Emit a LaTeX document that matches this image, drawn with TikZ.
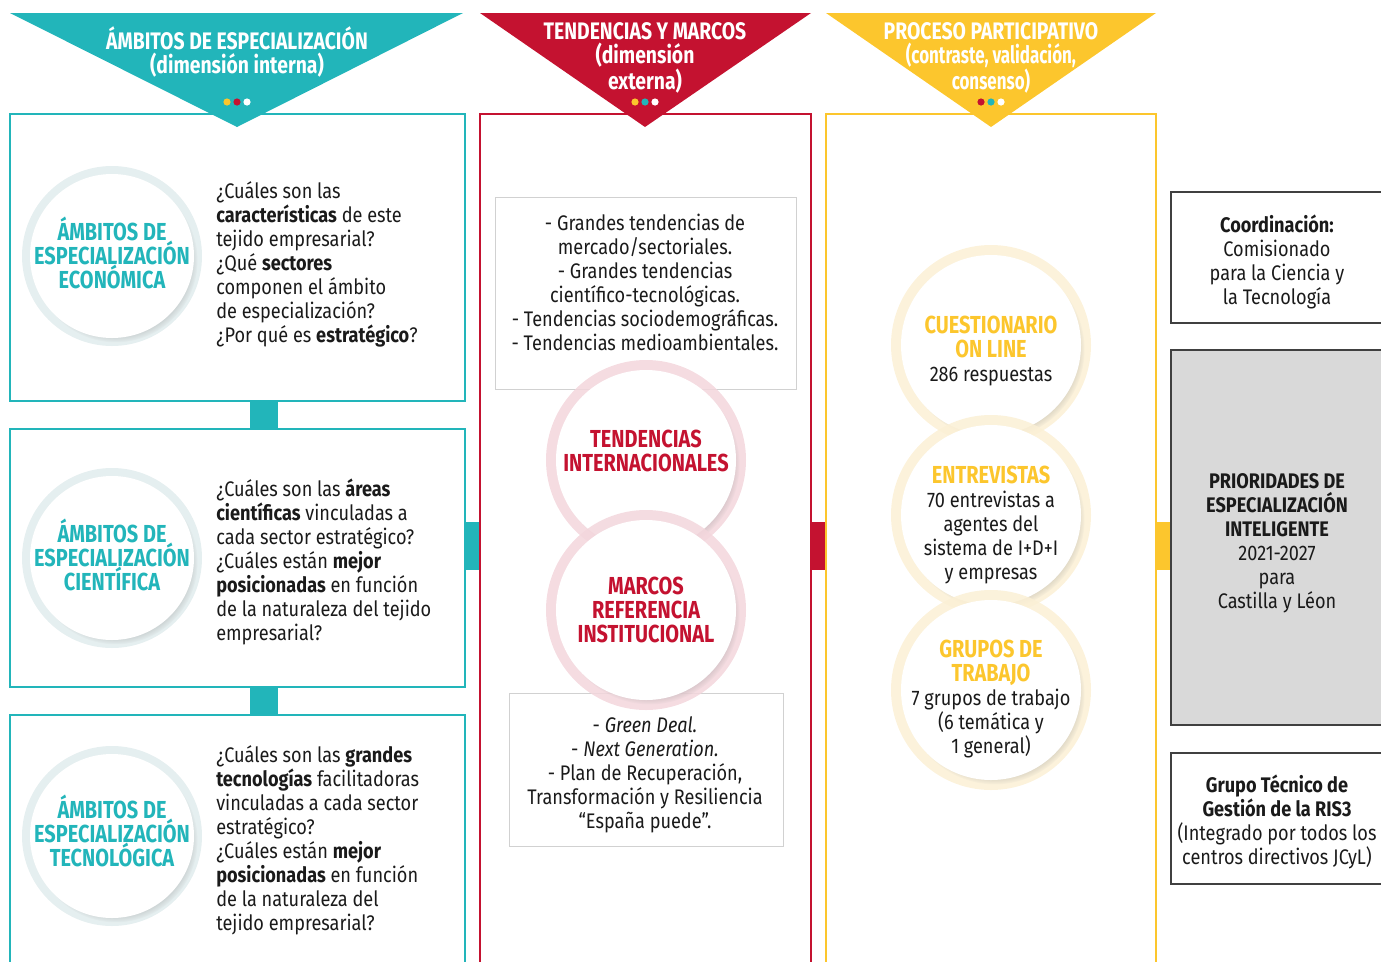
\documentclass[tikz,border=0pt]{standalone}
\usepackage{fontspec}
\setmainfont{Fira Sans}[FakeStretch=0.86]
\newfontfamily\headfont{Fira Sans}[FakeStretch=0.81]
\newfontfamily\narrowfont{Fira Sans}[FakeStretch=0.71]
\usetikzlibrary{positioning,fit,calc,shadows}

\definecolor{ristea}{HTML}{22B5BA}
\definecolor{risred}{HTML}{C41230}
\definecolor{risyel}{HTML}{FCC62D}
\definecolor{risgray}{HTML}{D9D9D9}
\definecolor{ink}{HTML}{1A1A1A}
\definecolor{tearing}{HTML}{E1ECED}
\definecolor{redring}{HTML}{F3D6DC}
\definecolor{yelring}{HTML}{FBF0D5}

\newcommand\ytag[1]{{\color{risyel}\headfont\bfseries\fontsize{17.5}{17.07}\selectfont #1}}
\newcommand\nhead[1]{{\narrowfont\bfseries #1}}

\tikzset{
  colbox/.style={draw=#1, line width=0.35mm, inner sep=0pt},
  listbox/.style={draw=black!18, line width=0.2mm, inner sep=0pt},
  sidebox/.style={draw=black!75, line width=0.3mm, inner sep=0pt},
  ring/.style={circle, fill=#1, fill opacity=0.85, inner sep=0pt, minimum size=50mm},
  disc/.style={circle, fill=white, inner sep=0pt, minimum size=45mm,
    circular drop shadow={shadow xshift=0.9mm, shadow yshift=-1.1mm, shadow scale=1.0, opacity=0.45}},
  headtxt/.style={font=\headfont\bfseries\fontsize{17}{17.07}\selectfont, align=center, text=white, inner sep=0pt},
  body/.style={font=\fontsize{15}{17.07}\selectfont, text=ink, inner sep=0pt},
  tag/.style={font=\headfont\bfseries\fontsize{17.5}{17.07}\selectfont, text=#1, align=center, inner sep=0pt},
}

\begin{document}
\begin{tikzpicture}[x=0.25mm, y=-0.25mm]
\useasboundingbox (0,0) rectangle (1381,961);
\clip (0,0) rectangle (1381,961);

\node[colbox=ristea, fit={(10,114) (465,401)}] (eco) {};
\node[colbox=ristea, fit={(10,429) (465,687)}] (cie) {};
\node[colbox=ristea, fit={(10,715) (465,990)}] (tec) {};
\node[colbox=risred, fit={(480,114) (811,990)}] (tend) {};
\node[colbox=risyel, fit={(826,114) (1156,990)}] (proc) {};

\fill[ristea] (10,13) -- (463,13) -- (237,127) -- cycle;
\fill[risred] (480,13) -- (811,13) -- (645,127) -- cycle;
\fill[risyel] (826,13) -- (1156,13) -- (991,127) -- cycle;
\node[headtxt] (hamb) at (237,52) {ÁMBITOS DE ESPECIALIZACIÓN\\(dimensión interna)};
\node[headtxt] (htend) at (645,58) {TENDENCIAS Y MARCOS\\(dimensión\\externa)};
\node[headtxt] (hproc) at (991,58) {PROCESO PARTICIPATIVO\\\nhead{(contraste, validación,}\\\nhead{consenso)}};
\foreach \c [count=\i] in {risyel,risred,white}
  \fill[\c] (217+10*\i,102) circle[radius=0.9mm];
\foreach \c [count=\i] in {risyel,ristea,white}
  \fill[\c] (625+10*\i,102) circle[radius=0.9mm];
\foreach \c [count=\i] in {risred,ristea,white}
  \fill[\c] (971+10*\i,102) circle[radius=0.9mm];

\fill[ristea] (250,0 |- eco.south) rectangle (278,0 |- cie.north);
\fill[ristea] (250,0 |- cie.south) rectangle (278,0 |- tec.north);
\fill[ristea] (cie.east |- 0,522) rectangle (tend.west |- 0,570);
\fill[risred] (tend.east |- 0,522) rectangle (proc.west |- 0,570);

\node[ring=tearing, minimum size=45mm] (reco) at (112,256) {};
\node[disc, minimum size=41mm] (deco) at (reco) {};
\node[tag=ristea] (teco) at (112,253) {ÁMBITOS DE\\ESPECIALIZACIÓN\\ECONÓMICA};
\node[ring=tearing, minimum size=45mm] (rcie) at (112,558) {};
\node[disc, minimum size=41mm] (dcie) at (rcie) {};
\node[tag=ristea] (tcie) at (112,555) {ÁMBITOS DE\\ESPECIALIZACIÓN\\CIENTÍFICA};
\node[ring=tearing, minimum size=45mm] (rtec) at (112,836) {};
\node[disc, minimum size=41mm] (dtec) at (rtec) {};
\node[tag=ristea] (ttec) at (112,831) {ÁMBITOS DE\\ESPECIALIZACIÓN\\TECNOLÓGICA};

\node[body, align=left, anchor=west] (qeco) at (216,264) {¿Cuáles son las\\
\textbf{características} de este\\
tejido empresarial?\\
¿Qué \textbf{sectores}\\
componen el ámbito\\
de especialización?\\
¿Por qué es \textbf{estratégico}?};
\node[body, align=left, anchor=west] (qcie) at (216,562) {¿Cuáles son las \textbf{áreas}\\
\textbf{científicas} vinculadas a\\
cada sector estratégico?\\
¿Cuáles están \textbf{mejor}\\
\textbf{posicionadas} en función\\
de la naturaleza del tejido\\
empresarial?};
\node[body, align=left, anchor=west] (qtec) at (216,840) {¿Cuáles son las \textbf{grandes}\\
\textbf{tecnologías} facilitadoras\\
vinculadas a cada sector\\
estratégico?\\
¿Cuáles están \textbf{mejor}\\
\textbf{posicionadas} en función\\
de la naturaleza del\\
tejido empresarial?};

\node[listbox, fit={(495,197) (796,389)}] (lista) {};
\node[body, align=center] (ltxt) at (645,282) {- Grandes tendencias de\\
mercado/sectoriales.\\
- Grandes tendencias\\
científico-tecnológicas.\\
- Tendencias sociodemográficas.\\
- Tendencias medioambientales.};
\node[listbox, fit={(509,693) (783,846)}] (listb) {};
\node[body, align=center] (mtxt) at (645,775) {- \textit{Green Deal.}\\
- \textit{Next Generation.}\\
- Plan de Recuperación,\\
Transformación y Resiliencia\\
“España puede”.};

\node[ring=redring] (rint) at (646,460) {};
\node[disc] (dint) at (rint) {};
\node[tag=risred] (tint) at (646,451) {TENDENCIAS\\INTERNACIONALES};
\node[ring=redring] (rmar) at (646,610) {};
\node[disc] (dmar) at (rmar) {};
\node[tag=risred] (tmar) at (646,610) {MARCOS\\REFERENCIA\\INSTITUCIONAL};

\node[ring=yelring] (rcue) at (991,345) {};
\node[disc] (dcue) at (rcue) {};
\node[body, align=center] (tcue) at (991,351) {\ytag{CUESTIONARIO}\\\ytag{ON LINE}\\286 respuestas};
\node[ring=yelring] (rent) at (991,515) {};
\node[disc] (dent) at (rent) {};
\node[body, align=center] (tent) at (991,525) {\ytag{ENTREVISTAS}\\70 entrevistas a\\agentes del\\sistema de I+D+I\\y empresas};
\node[ring=yelring] (rgru) at (991,690) {};
\node[disc] (dgru) at (rgru) {};
\node[body, align=center] (tgru) at (991,699) {\ytag{GRUPOS DE}\\\ytag{TRABAJO}\\7 grupos de trabajo\\(6 temática y\\1 general)};

\node[sidebox, fit={(1171,192) (1384,323)}] (coord) {};
\node[sidebox, fill=risgray, fit={(1171,350) (1384,725)}] (prio) {};
\node[sidebox, fit={(1171,753) (1384,884)}] (grupo) {};
\fill[risyel] (proc.east |- 0,522) rectangle (prio.west |- 0,570);
\node[body, align=center] (tcoord) at (1277,262) {\textbf{Coordinación:}\\Comisionado\\para la Ciencia y\\la Tecnología};
\node[body, align=center] (tprio) at (1277,543) {\textbf{PRIORIDADES DE}\\\textbf{ESPECIALIZACIÓN}\\\textbf{INTELIGENTE}\\2021-2027\\para\\Castilla y Léon};
\node[body, align=center] (tgrupo) at (1277,822) {\textbf{Grupo Técnico de}\\\textbf{Gestión de la RIS3}\\(Integrado por todos los\\centros directivos JCyL)};
\end{tikzpicture}
\end{document}
